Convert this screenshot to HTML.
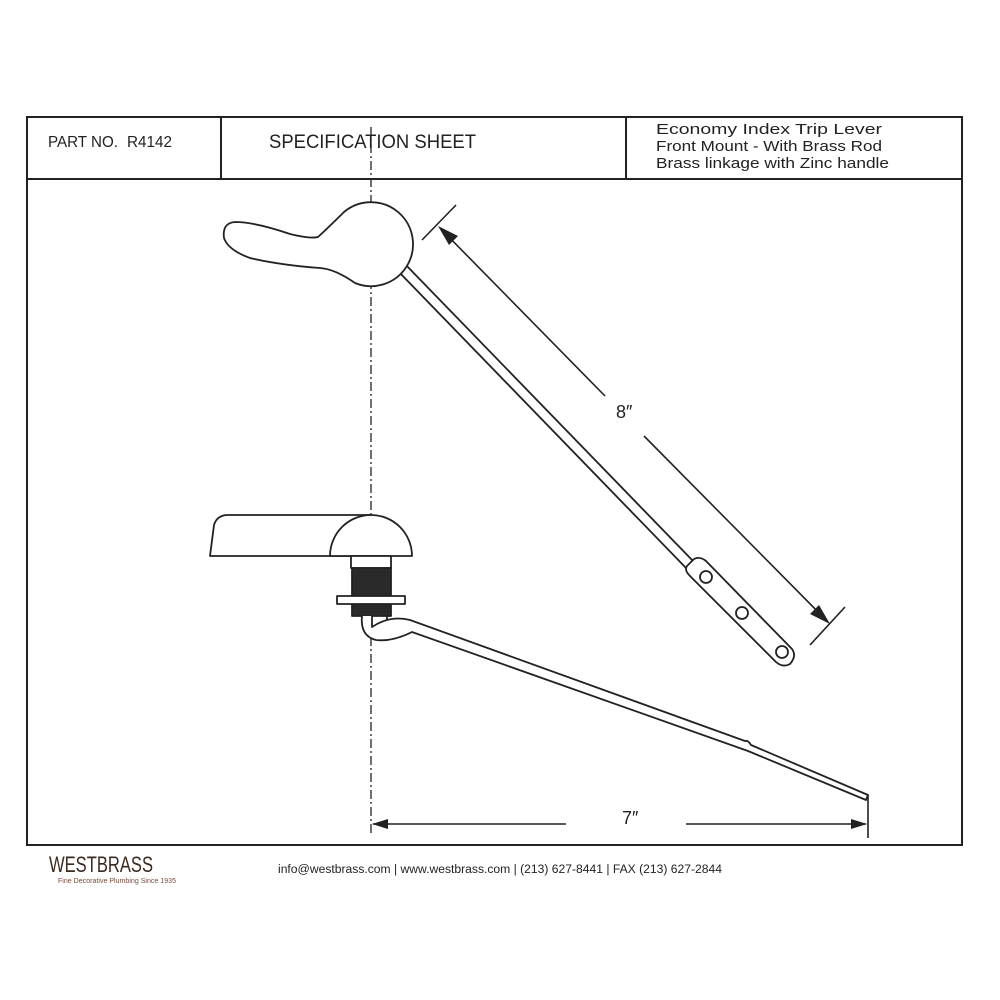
<!DOCTYPE html>
<html><head><style>html,body{margin:0;padding:0;background:#fff}svg{display:block}</style></head>
<body>
<svg width="1000" height="1000" viewBox="0 0 1000 1000" xmlns="http://www.w3.org/2000/svg" font-family="Liberation Sans, sans-serif">
<rect x="0" y="0" width="1000" height="1000" fill="#fff"/>
<g stroke="#222" fill="none">
<rect x="27" y="117" width="935" height="728" stroke-width="2"/>
<line x1="27" y1="179" x2="962" y2="179" stroke-width="2"/>
<line x1="221" y1="117" x2="221" y2="179" stroke-width="2"/>
<line x1="626" y1="117" x2="626" y2="179" stroke-width="2"/>
<line x1="371" y1="127" x2="371" y2="836" stroke-width="1.3" stroke-dasharray="9,3,2,3"/>
</g>
<g fill="#222">
<text x="48" y="147" font-size="15.5" textLength="70" lengthAdjust="spacingAndGlyphs">PART NO.</text>
<text x="127" y="147" font-size="15.5" textLength="45" lengthAdjust="spacingAndGlyphs">R4142</text>
<text x="269" y="148" font-size="19" textLength="207" lengthAdjust="spacingAndGlyphs">SPECIFICATION SHEET</text>
<text x="656" y="134" font-size="14.5" textLength="226" lengthAdjust="spacingAndGlyphs">Economy Index Trip Lever</text>
<text x="656" y="151" font-size="14.5" textLength="226" lengthAdjust="spacingAndGlyphs">Front Mount - With Brass Rod</text>
<text x="656" y="168" font-size="14.5" textLength="233" lengthAdjust="spacingAndGlyphs">Brass linkage with Zinc handle</text>
<text x="49" y="872" font-size="22" fill="#3a2a20" textLength="104" lengthAdjust="spacingAndGlyphs">WESTBRASS</text>
<text x="58" y="883" font-size="7" fill="#7a4a3a" textLength="118" lengthAdjust="spacingAndGlyphs">Fine Decorative Plumbing Since 1935</text>
<text x="278" y="873" font-size="11.5" textLength="444" lengthAdjust="spacingAndGlyphs">info@westbrass.com |  www.westbrass.com     |    (213) 627-8441    |    FAX (213) 627-2844</text>
<text x="616" y="418" font-size="18">8″</text>
<text x="622" y="824" font-size="18">7″</text>
</g>
<g stroke="#222" stroke-width="1.8" fill="#fff" stroke-linejoin="round">
<polygon points="397,270 404,263 694,562 687,569"/>
<path d="M687,566 L694,559 Q700,556 706,561 L792,649 Q797,656 790,664 Q783,668 776,662 L690,576 Q684,570 687,566 Z"/>
<circle cx="706" cy="577" r="6"/><circle cx="742" cy="613" r="6"/><circle cx="782" cy="652" r="6"/>
<path d="M344,212 A42,42 0 1 1 355,283 Q335,269 320,268 Q280,265 250,258 Q228,250 224,238 Q222,223 235,222 Q255,222 290,234 Q310,239 318,237 Q330,226 344,212 Z"/>
<path d="M228,515 L371,515 L371,556 L210,556 L214,525 Q217,515 228,515 Z"/>
<path d="M330,556 A41,41 0 0 1 412,556 Z"/>
<rect x="351" y="556" width="40" height="12"/>
<rect x="352" y="568" width="39" height="48" fill="#2a2a2a"/>
<rect x="337" y="596" width="68" height="8"/>
<rect x="365" y="616" width="22" height="12"/>
<path d="M362,616 Q360,636 376,640 Q392,642 412,632 L748,751 L866,800 L868,795 L751,745 Q748,740 745,741 L410,620 Q390,615 372,627 L372,616"/>
</g>
<g stroke="#222" stroke-width="1.6" fill="none">
<line x1="422" y1="240" x2="456" y2="205"/>
<line x1="810" y1="645" x2="845" y2="607"/>
<line x1="440" y1="228" x2="605" y2="396"/>
<line x1="644" y1="436" x2="828" y2="622"/>
<line x1="868" y1="795" x2="868" y2="838"/>
<line x1="373" y1="824" x2="566" y2="824"/>
<line x1="686" y1="824" x2="866" y2="824"/>
</g>
<g fill="#222">
<polygon points="438,226 458,236 449,245"/>
<polygon points="830,624 810,614 819,605"/>
<polygon points="372,824 388,819 388,829"/>
<polygon points="867,824 851,819 851,829"/>
</g>
</svg>
</body></html>
